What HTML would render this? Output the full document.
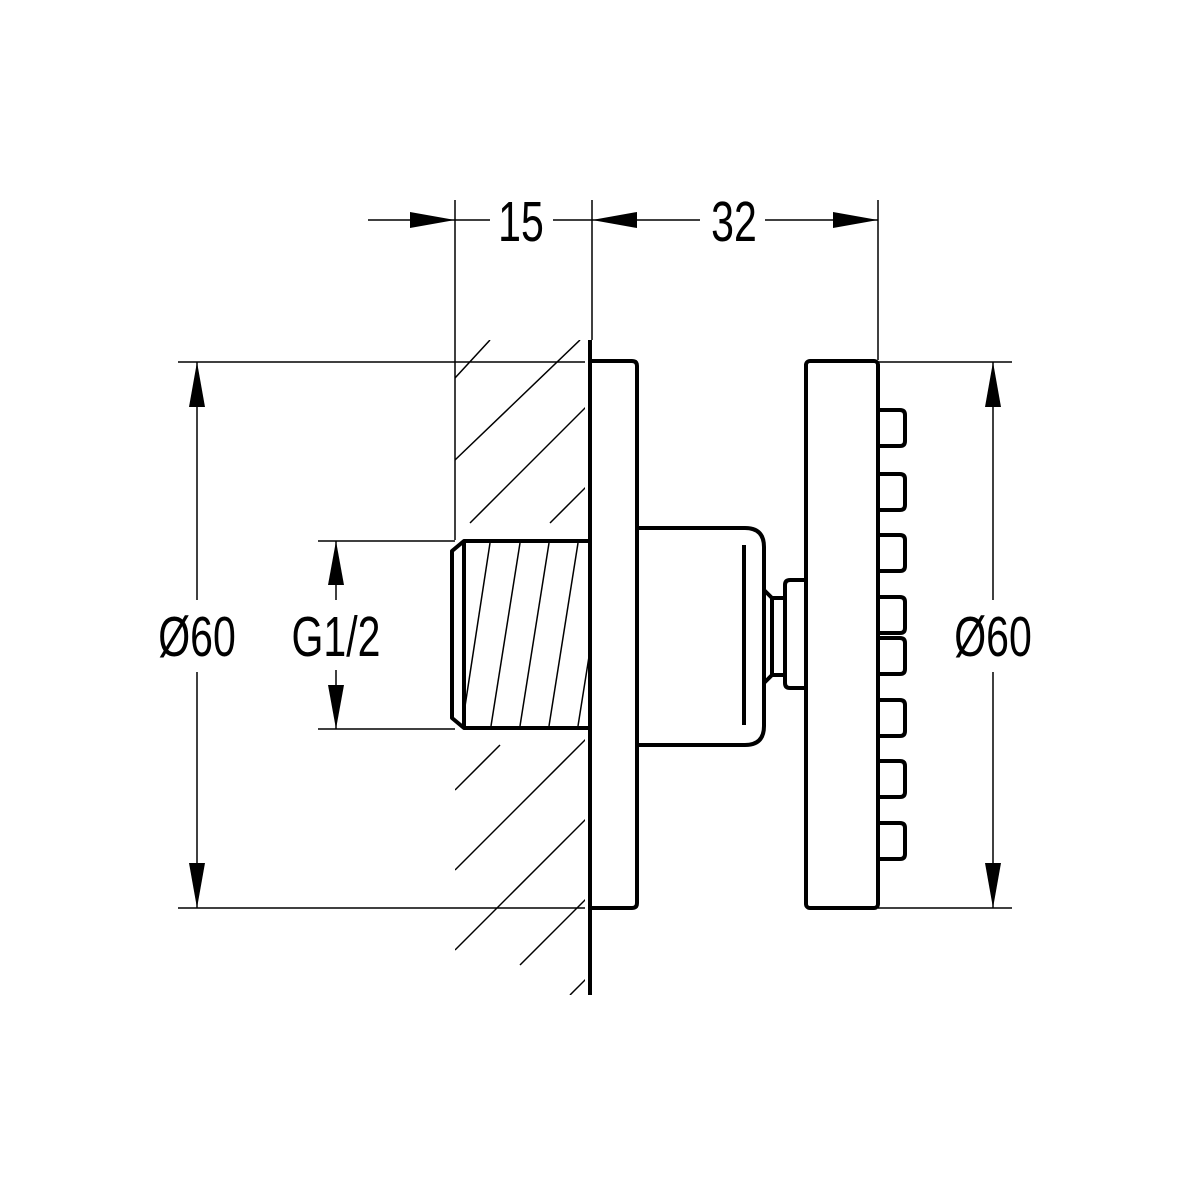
<!DOCTYPE html>
<html><head><style>html,body{margin:0;padding:0;background:#fff}svg{display:block}</style></head><body>
<svg width="1200" height="1200" viewBox="0 0 1200 1200" xmlns="http://www.w3.org/2000/svg">
<defs>
<clipPath id="wallTop"><rect x="455" y="340" width="130" height="200"/></clipPath>
<clipPath id="wallBot"><rect x="455" y="730" width="130" height="265"/></clipPath>
<clipPath id="thr"><rect x="465" y="543" width="123" height="183"/></clipPath>
</defs>
<g fill="none" stroke="#000" stroke-width="1.5">
<line x1="455" y1="200" x2="455" y2="540"/>
<line x1="592" y1="200" x2="592" y2="340"/>
<line x1="878" y1="200" x2="878" y2="360"/>
<line x1="368" y1="220" x2="455" y2="220"/>
<line x1="455" y1="220" x2="490" y2="220"/>
<line x1="553" y1="220" x2="592" y2="220"/>
<line x1="592" y1="220" x2="700" y2="220"/>
<line x1="765" y1="220" x2="878" y2="220"/>
<line x1="178" y1="362" x2="585" y2="362"/>
<line x1="178" y1="908" x2="585" y2="908"/>
<line x1="197" y1="362" x2="197" y2="600"/>
<line x1="197" y1="672" x2="197" y2="908"/>
<line x1="318" y1="541" x2="455" y2="541"/>
<line x1="318" y1="729" x2="455" y2="729"/>
<line x1="336" y1="541" x2="336" y2="600"/>
<line x1="336" y1="670" x2="336" y2="729"/>
<line x1="878" y1="362" x2="1012" y2="362"/>
<line x1="878" y1="908" x2="1012" y2="908"/>
<line x1="993" y1="362" x2="993" y2="600"/>
<line x1="993" y1="672" x2="993" y2="908"/>
<g clip-path="url(#wallTop)">
<line x1="455" y1="378" x2="490" y2="340"/>
<line x1="455" y1="460" x2="580" y2="340"/>
<line x1="470" y1="523" x2="590" y2="403"/>
<line x1="550" y1="523" x2="590" y2="483"/>
</g>
<g clip-path="url(#wallBot)">
<line x1="455" y1="790" x2="500" y2="745"/>
<line x1="455" y1="870" x2="590" y2="735"/>
<line x1="455" y1="950" x2="590" y2="815"/>
<line x1="520" y1="965" x2="590" y2="895"/>
<line x1="570" y1="995" x2="590" y2="975"/>
</g>
<g clip-path="url(#thr)">
<line x1="490" y1="543" x2="462" y2="726"/>
<line x1="520" y1="543" x2="491" y2="726"/>
<line x1="549" y1="543" x2="520" y2="726"/>
<line x1="578" y1="543" x2="549" y2="726"/>
<line x1="607" y1="543" x2="578" y2="726"/>
</g>
</g>
<g fill="none" stroke="#000" stroke-width="4" stroke-linejoin="round">
<line x1="590" y1="340" x2="590" y2="995"/>
<path d="M590 361 H632 Q637 361 637 366 V903 Q637 908 632 908 H590"/>
<path d="M637 528 H745 Q764 528 764 547 V726 Q764 745 745 745 H637"/>
<line x1="744" y1="545" x2="744" y2="725"/>
<path d="M590 541 H464 L452 551 V718 L464 728 H590"/>
<line x1="464" y1="541" x2="464" y2="728"/>
<path d="M764 590 L772 598 H785 M764 683 L772 675 H785 M772 598 V675"/>
<path d="M805 580 H790 Q785 580 785 585 V683 Q785 688 790 688 H805"/>
<rect x="806" y="361" width="72" height="547" rx="4"/>
<g>
<path d="M878 410 H900 Q905 410 905 415 V441 Q905 446 900 446 H878"/>
<path d="M878 474 H900 Q905 474 905 479 V505 Q905 510 900 510 H878"/>
<path d="M878 535 H900 Q905 535 905 540 V566 Q905 571 900 571 H878"/>
<path d="M878 597 H900 Q905 597 905 602 V628 Q905 633 900 633 H878"/>
<path d="M878 638 H900 Q905 638 905 643 V669 Q905 674 900 674 H878"/>
<path d="M878 700 H900 Q905 700 905 705 V731 Q905 736 900 736 H878"/>
<path d="M878 761 H900 Q905 761 905 766 V792 Q905 797 900 797 H878"/>
<path d="M878 823 H900 Q905 823 905 828 V854 Q905 859 900 859 H878"/>
</g>
</g>
<g fill="#000">
<polygon points="455,220 410,212 410,228"/>
<polygon points="592,220 637,212 637,228"/>
<polygon points="878,220 833,212 833,228"/>
<polygon points="197,362 189,407 205,407"/>
<polygon points="197,908 189,863 205,863"/>
<polygon points="336,541 328,585 344,585"/>
<polygon points="336,729 328,685 344,685"/>
<polygon points="993,362 985,407 1001,407"/>
<polygon points="993,908 985,863 1001,863"/>
</g>
<g font-family="Liberation Sans, sans-serif" font-size="57" fill="#000" text-anchor="middle">
<text transform="translate(521,241) scale(0.72,1)">15</text>
<text transform="translate(734,241) scale(0.72,1)">32</text>
<text transform="translate(197,656) scale(0.72,1)">Ø60</text>
<text transform="translate(336,656) scale(0.72,1)">G1/2</text>
<text transform="translate(993,656) scale(0.72,1)">Ø60</text>
</g>
</svg>
</body></html>
